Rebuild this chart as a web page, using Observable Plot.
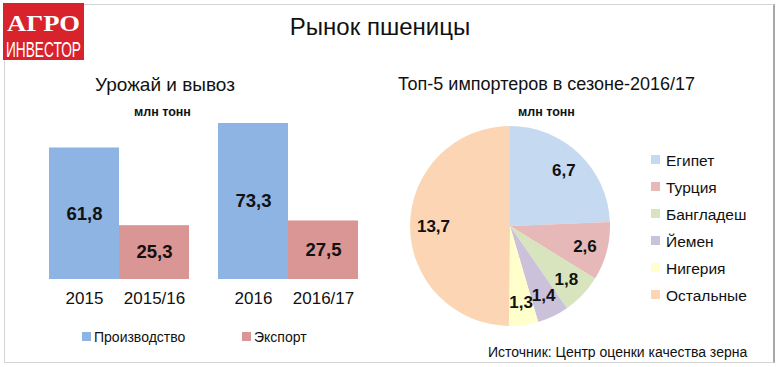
<!DOCTYPE html>
<html>
<head>
<meta charset="utf-8">
<script src="https://cdn.jsdelivr.net/npm/d3@7"></script>
<script src="https://cdn.jsdelivr.net/npm/@observablehq/plot@0.6"></script>
<style>
  html, body { margin: 0; padding: 0; background: #fff; }
  body { width: 780px; height: 367px; position: relative; overflow: hidden; font-family: "Liberation Sans", Arial, sans-serif; color: #111; }
  .abs { position: absolute; white-space: nowrap; }
  #frame { left: 4px; top: 4px; width: 771px; height: 359px; border: 1px solid #d4d4d4; border-right: 2px solid #a8a8a8; box-sizing: border-box; }
  #logo { left: 3px; top: 3px; }
  .sw { display: inline-block; width: 9px; height: 9px; }
</style>
</head>
<body>
<script>
// ---- Data ----
const groups = ["2015", "2016"];
const barSeries = ["Производство", "Экспорт"];
const barColors = ["#8db4e2", "#d99694"];
const barLabels = ["2015", "2015/16", "2016", "2016/17"];
const barValues = [61.8, 25.3, 73.3, 27.5];

const pieNames = ["Египет", "Турция", "Бангладеш", "Йемен", "Нигерия", "Остальные"];
const pieValues = [6.7, 2.6, 1.8, 1.4, 1.3, 13.7];
const pieColors = ["#c5d9f1", "#e6b9b8", "#d7e4bd", "#ccc1da", "#ffffcc", "#fcd5b5"];

const fmt = v => String(v).replace(".", ",");

function add(html, cls, style) {
  const d = document.createElement("div");
  d.className = "abs " + (cls || "");
  d.setAttribute("style", style || "");
  d.innerHTML = html;
  document.body.appendChild(d);
  return d;
}

const frame = add("", "", "");
frame.id = "frame";
const logo = add(
  '<svg width="92" height="66" style="display:block;overflow:visible">' +
  '<rect x="0" y="0" width="81" height="57" fill="#d8222c"></rect>' +
  '<text fill="#fff" font-family="Liberation Sans, Arial, sans-serif">' +
  '<tspan x="4" y="27.5" font-family="Liberation Serif, serif" font-weight="bold" font-size="24" textLength="73" lengthAdjust="spacingAndGlyphs">АГРО</tspan>' +
  '<tspan x="3" y="53.5" font-size="22" textLength="75" lengthAdjust="spacingAndGlyphs">ИНВЕСТОР</tspan>' +
  '</text></svg>', "", "");
logo.id = "logo";

add("Рынок пшеницы", "", "left:0;width:760px;text-align:center;top:13px;font-size:24px;");
add("Урожай и вывоз", "", "left:95px;top:74px;font-size:19px;");
add("млн тонн", "", "left:134px;top:105px;font-size:12.5px;font-weight:bold;");
add("Топ-5 импортеров в сезоне-2016/17", "", "left:398px;top:74px;font-size:18px;");
add("млн тонн", "", "left:518px;top:105px;font-size:12.5px;font-weight:bold;");
add("Источник: Центр оценки качества зерна", "", "left:488px;top:344px;font-size:14px;");

// ---- Bar chart ----
const bars = barValues.map((v, i) => ({
  group: groups[Math.floor(i / 2)],
  series: barSeries[i % 2],
  label: barLabels[i],
  value: v
}));

const barPlot = Plot.plot({
  width: 380,
  height: 215,
  marginLeft: 49,
  marginRight: 22,
  marginTop: 23,
  marginBottom: 36,
  style: { fontFamily: "Liberation Sans, Arial, sans-serif", background: "transparent", overflow: "visible" },
  fx: { domain: groups, paddingInner: 0.1716, paddingOuter: 0, axis: null },
  x: { domain: barSeries, padding: 0, axis: null },
  y: { domain: [0, 73.3], axis: null },
  color: { domain: barSeries, range: barColors },
  marks: [
    Plot.barY(bars, { fx: "group", x: "series", y: "value", fill: "series" }),
    Plot.text(bars, { fx: "group", x: "series", y: d => d.value / 2, text: d => fmt(d.value), fontSize: 18.5, fontWeight: "bold", fill: "#111" }),
    Plot.text(bars, { fx: "group", x: "series", y: 0, text: "label", dy: 19, fontSize: 17, fill: "#111" })
  ]
});
barPlot.style.position = "absolute";
barPlot.style.left = "0px";
barPlot.style.top = "100px";
document.body.appendChild(barPlot);

// bar legend
barSeries.forEach((s, i) => {
  const left = [82, 242][i];
  add(`<span class="sw" style="background:${barColors[i]};margin-right:3px;vertical-align:1px"></span>${s}`, "", `left:${left}px;top:329px;font-size:14px;`);
});

// ---- Pie chart ----
const arcs = d3.pie().sort(null).value(d => d)(pieValues);
const slices = arcs.map((a, i) => ({
  name: pieNames[i],
  value: pieValues[i],
  start: a.startAngle,
  end: a.endAngle,
  mid: (a.startAngle + a.endAngle) / 2
}));

const piePlot = Plot.plot({
  width: 230,
  height: 225,
  marginLeft: 10,
  marginRight: 20,
  marginTop: 11,
  marginBottom: 14,
  style: { fontFamily: "Liberation Sans, Arial, sans-serif", background: "transparent", overflow: "visible" },
  x: { domain: [-1, 1], axis: null },
  y: { domain: [-1, 1], axis: null },
  marks: [
    (index, scales, values, dimensions) => {
      const sx = scales.x, sy = scales.y;
      const cx = sx(0), cy = sy(0);
      const r = sx(1) - sx(0);
      const g = d3.create("svg:g").attr("transform", `translate(${cx},${cy})`);
      const arcGen = d3.arc().innerRadius(0).outerRadius(r);
      g.selectAll("path")
        .data(slices)
        .join("path")
        .attr("d", d => arcGen({ startAngle: d.start, endAngle: d.end }))
        .attr("fill", (d, i) => pieColors[i]);
      return g.node();
    },
    Plot.text(slices, {
      x: d => 0.77 * Math.sin(d.mid),
      y: d => 0.77 * Math.cos(d.mid),
      text: d => fmt(d.value),
      fontSize: 17,
      fontWeight: "bold",
      fill: "#111"
    })
  ]
});
piePlot.style.position = "absolute";
piePlot.style.left = "400px";
piePlot.style.top = "115px";
document.body.appendChild(piePlot);

// pie legend
pieNames.forEach((n, i) => {
  const top = [152, 179, 206, 233, 260, 287][i];
  add(`<span class="sw" style="background:${pieColors[i]};margin-right:6px;vertical-align:2px"></span>${n}`, "", `left:651px;top:${top}px;font-size:15.5px;`);
});
</script>
</body>
</html>
